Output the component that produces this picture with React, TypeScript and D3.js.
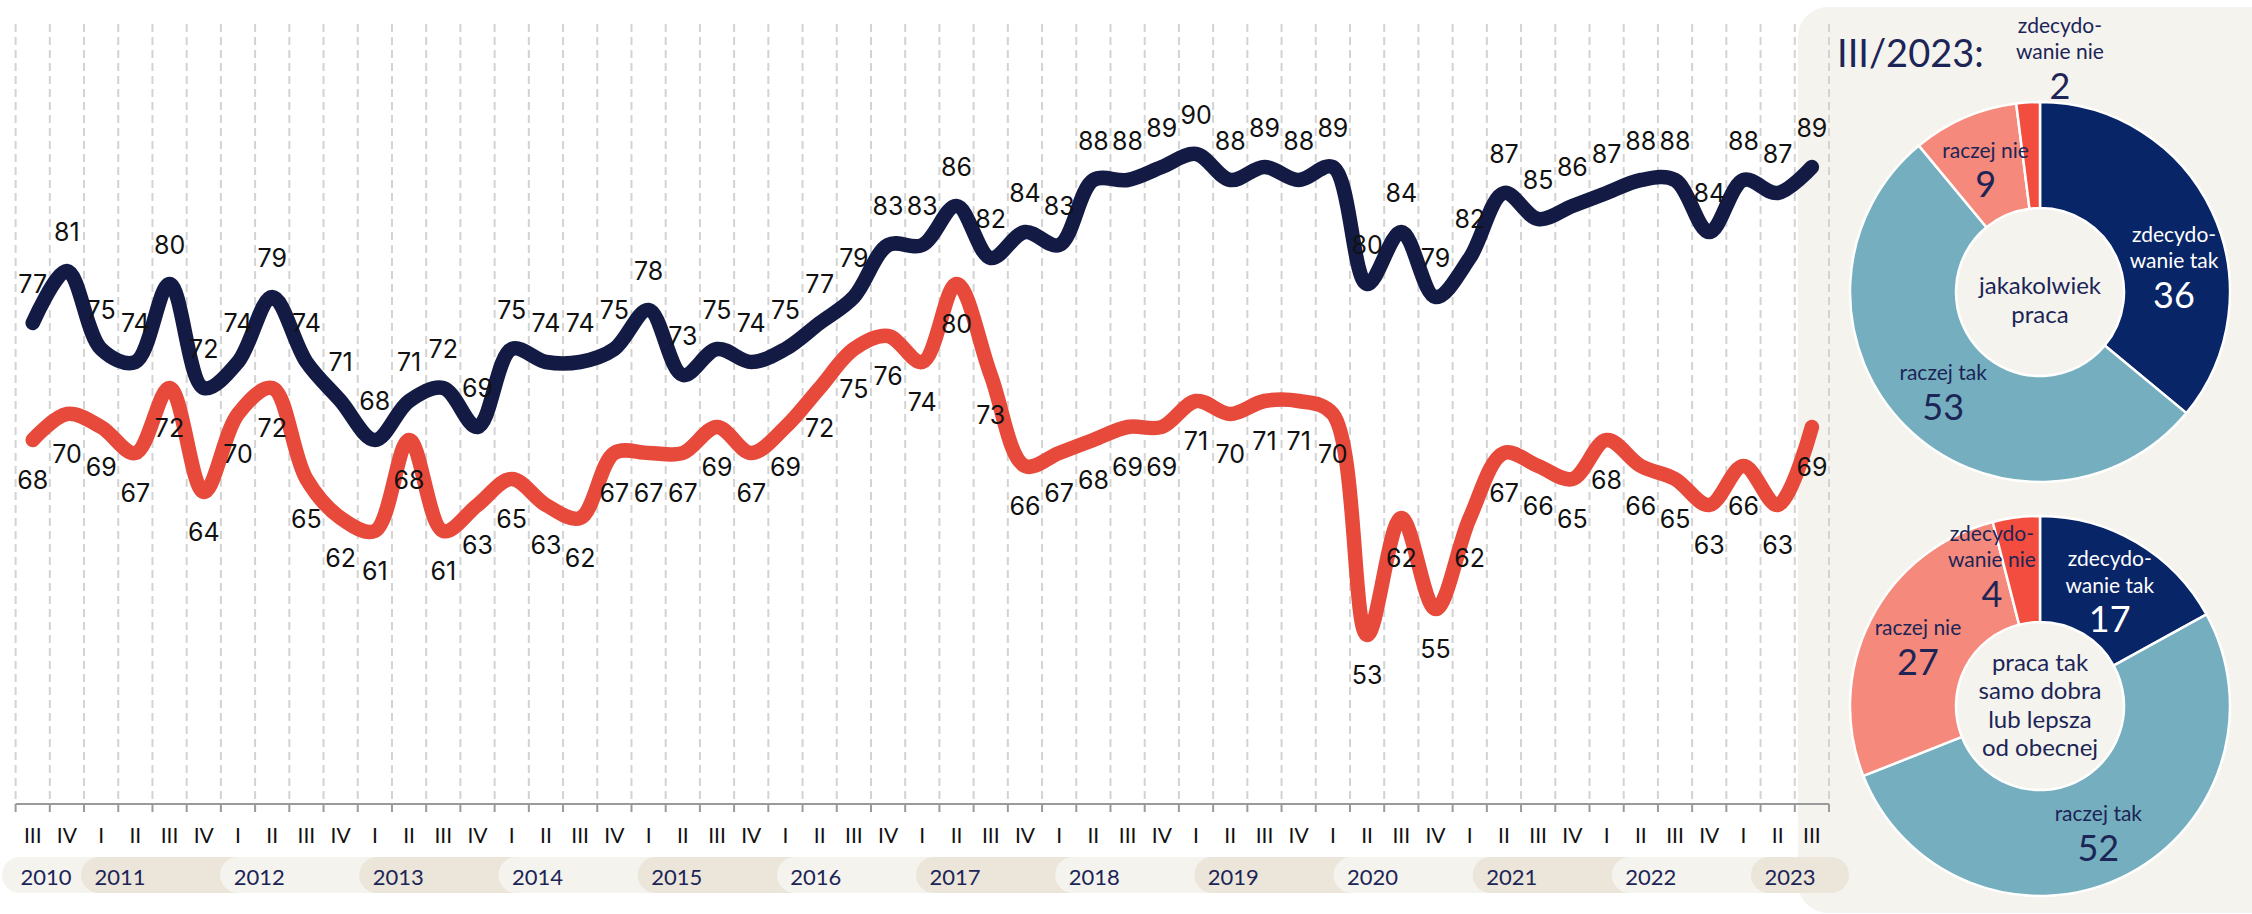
import React from 'react';
import * as d3 from 'd3';

// ---------- DATA ----------
const periods = [
  'III/2010', 'IV/2010',
  'I/2011', 'II/2011', 'III/2011', 'IV/2011',
  'I/2012', 'II/2012', 'III/2012', 'IV/2012',
  'I/2013', 'II/2013', 'III/2013', 'IV/2013',
  'I/2014', 'II/2014', 'III/2014', 'IV/2014',
  'I/2015', 'II/2015', 'III/2015', 'IV/2015',
  'I/2016', 'II/2016', 'III/2016', 'IV/2016',
  'I/2017', 'II/2017', 'III/2017', 'IV/2017',
  'I/2018', 'II/2018', 'III/2018', 'IV/2018',
  'I/2019', 'II/2019', 'III/2019', 'IV/2019',
  'I/2020', 'II/2020', 'III/2020', 'IV/2020',
  'I/2021', 'II/2021', 'III/2021', 'IV/2021',
  'I/2022', 'II/2022', 'III/2022', 'IV/2022',
  'I/2023', 'II/2023', 'III/2023',
];

// "jakakolwiek praca" (navy)
const anyJob = [
  77, 81, 75, 74, 80, 72, 74, 79, 74, 71, 68, 71, 72, 69, 75, 74, 74, 75, 78, 73,
  75, 74, 75, 77, 79, 83, 83, 86, 82, 84, 83, 88, 88, 89, 90, 88, 89, 88, 89, 80,
  84, 79, 82, 87, 85, 86, 87, 88, 88, 84, 88, 87, 89,
];

// "praca tak samo dobra lub lepsza od obecnej" (red)
const sameOrBetterJob = [
  68, 70, 69, 67, 72, 64, 70, 72, 65, 62, 61, 68, 61, 63, 65, 63, 62, 67, 67, 67,
  69, 67, 69, 72, 75, 76, 74, 80, 73, 66, 67, 68, 69, 69, 71, 70, 71, 71, 70, 53,
  62, 55, 62, 67, 66, 65, 68, 66, 65, 63, 66, 63, 69,
];

const years = ['2010', '2011', '2012', '2013', '2014', '2015', '2016', '2017', '2018', '2019', '2020', '2021', '2022', '2023'];

const answerNames = [
  ['zdecydo-', 'wanie tak'],
  ['raczej tak'],
  ['raczej nie'],
  ['zdecydo-', 'wanie nie'],
];
const anyJobShares = [36, 53, 9, 2];
const sameOrBetterShares = [17, 52, 27, 4];

const panelTitle = 'III/2023:';
const donut1Center = ['jakakolwiek', 'praca'];
const donut2Center = ['praca tak', 'samo dobra', 'lub lepsza', 'od obecnej'];

// ---------- STYLE ----------
const W = 2252;
const H = 914;
const FONT = 'Lato, "Open Sans", sans-serif';
const NUM_FONT = 'Inter, Lato, sans-serif';
const NAVY_LINE = '#131b45';
const RED_LINE = '#e7493b';
const TEXT_NAVY = '#1c2556';
const SLICE_COLORS = ['#082567', '#75afbf', '#f5897b', '#f34d3f'];
const PILL_LIGHT = '#f4f3ee';
const PILL_DARK = '#ebe5da';
const PANEL_BG = '#f4f3ee';

function Donut({ cx, cy, values, centerLines, centerDy, overrides }) {
  const pie = d3.pie<number>().sort(null).value((d) => d);
  const arcs = pie(values);
  const arc = d3.arc<any>().innerRadius(84).outerRadius(190);
  const labelR = 137;
  return (
    <g transform={`translate(${cx},${cy})`}>
      {arcs.map((a, i) => (
        <path key={i} d={arc(a) as string} fill={SLICE_COLORS[i]} stroke="#ffffff" strokeWidth={2.5} />
      ))}
      {arcs.map((a, i) => {
        const ov = overrides[i];
        const ang = ov ? (ov.angle * Math.PI) / 180 : (a.startAngle + a.endAngle) / 2;
        const r = ov ? ov.r : labelR;
        const bx = r * Math.sin(ang);
        const by = -r * Math.cos(ang);
        const names = answerNames[i];
        const numY = by + (names.length === 2 ? 30 : 17);
        const color = i === 0 ? '#ffffff' : TEXT_NAVY;
        return (
          <g key={'l' + i} fill={color} fontFamily={FONT} textAnchor="middle">
            {names.map((n, j) => (
              <text key={j} x={bx} y={numY - 34 - (names.length - 1 - j) * 26.5} dominantBaseline="central" fontSize={21}>
                {n}
              </text>
            ))}
            <text x={bx} y={numY} dominantBaseline="central" fontSize={36}>
              {values[i]}
            </text>
          </g>
        );
      })}
      {centerLines.map((t, j) => (
        <text
          key={'c' + j}
          x={0}
          y={(j - (centerLines.length - 1) / 2) * 28.5 + centerDy}
          textAnchor="middle"
          dominantBaseline="central"
          fontFamily={FONT}
          fontSize={24}
          fill={TEXT_NAVY}
        >
          {t}
        </text>
      ))}
    </g>
  );
}

export default function App() {
  const x = d3.scaleBand<string>().domain(periods).range([15.6, 1829]).padding(0);
  const bw = x.bandwidth();
  const cxp = (i: number) => (x(periods[i]) as number) + bw / 2;
  const y = d3.scaleLinear().domain([40, 100]).range([804, 24]);

  const line = d3
    .line<number>()
    .x((_, i) => cxp(i))
    .y((d) => y(d))
    .curve(d3.curveCatmullRom.alpha(0.5));

  const gridXs = periods.map((p) => x(p) as number).concat([x.range()[1]]);

  const yearScale = d3.scaleLinear().domain([2011, 2023]).range([120, 1790]);
  const pillLeft = (i: number) => (i === 0 ? 2 : yearScale(+years[i]) - 39);
  const pillRightEnd = 1849;

  return (
    <svg width={W} height={H} style={{ position: 'absolute', left: 0, top: 0, background: '#ffffff' }}>
      {/* right panel background */}
      <rect x={1798} y={7} width={520} height={906} rx={30} ry={30} fill={PANEL_BG} />

      {/* grid */}
      {gridXs.map((gx, k) => (
        <line key={k} x1={gx} x2={gx} y1={24} y2={804} stroke="#d3d3d3" strokeWidth={2} strokeDasharray="8,5" />
      ))}

      {/* axis */}
      <line x1={gridXs[0]} x2={gridXs[gridXs.length - 1]} y1={804} y2={804} stroke="#9a9a9a" strokeWidth={2} />
      {gridXs.map((gx, k) => (
        <line key={'t' + k} x1={gx} x2={gx} y1={804} y2={812} stroke="#9a9a9a" strokeWidth={2} />
      ))}
      {periods.map((p, i) => (
        <text
          key={'q' + i}
          x={cxp(i)}
          y={834}
          textAnchor="middle"
          dominantBaseline="central"
          fontFamily={FONT}
          fontSize={21}
          fill="#111111"
        >
          {p.split('/')[0]}
        </text>
      ))}

      {/* year pills */}
      {years.map((yr, i) => {
        const left = pillLeft(i);
        const right = i < years.length - 1 ? pillLeft(i + 1) + 40 : pillRightEnd;
        return (
          <rect
            key={'p' + yr}
            x={left}
            y={857}
            width={right - left}
            height={36}
            rx={18}
            ry={18}
            fill={i % 2 === 0 ? PILL_LIGHT : PILL_DARK}
          />
        );
      })}
      {years.map((yr, i) => (
        <text
          key={'y' + yr}
          x={i === 0 ? 46 : yearScale(+yr)}
          y={876}
          textAnchor="middle"
          dominantBaseline="central"
          fontFamily={FONT}
          fontSize={22}
          fill={TEXT_NAVY}
        >
          {yr}
        </text>
      ))}

      {/* lines */}
      <path d={line(anyJob) as string} fill="none" stroke={NAVY_LINE} strokeWidth={14.5} strokeLinecap="round" strokeLinejoin="round" />
      <path d={line(sameOrBetterJob) as string} fill="none" stroke={RED_LINE} strokeWidth={14.5} strokeLinecap="round" strokeLinejoin="round" />

      {/* value labels */}
      {anyJob.map((v, i) => (
        <text key={'a' + i} x={cxp(i)} y={y(v) - 39} textAnchor="middle" dominantBaseline="central" fontFamily={NUM_FONT} fontSize={25} fill="#111111">
          {v}
        </text>
      ))}
      {sameOrBetterJob.map((v, i) => (
        <text key={'b' + i} x={cxp(i)} y={y(v) + 40} textAnchor="middle" dominantBaseline="central" fontFamily={NUM_FONT} fontSize={25} fill="#111111">
          {v}
        </text>
      ))}

      {/* panel */}
      <text x={1837} y={52} dominantBaseline="central" fontFamily={FONT} fontSize={38} fill={TEXT_NAVY}>
        {panelTitle}
      </text>
      <Donut
        cx={2040}
        cy={292}
        values={anyJobShares}
        centerLines={donut1Center}
        centerDy={7}
        overrides={{ 0: { angle: 78, r: 137 }, 3: { angle: 4.8, r: 238 } }}
      />
      <Donut
        cx={2040}
        cy={706}
        values={sameOrBetterShares}
        centerLines={donut2Center}
        centerDy={-2}
        overrides={{ 3: { angle: 341.4, r: 151 } }}
      />
    </svg>
  );
}
